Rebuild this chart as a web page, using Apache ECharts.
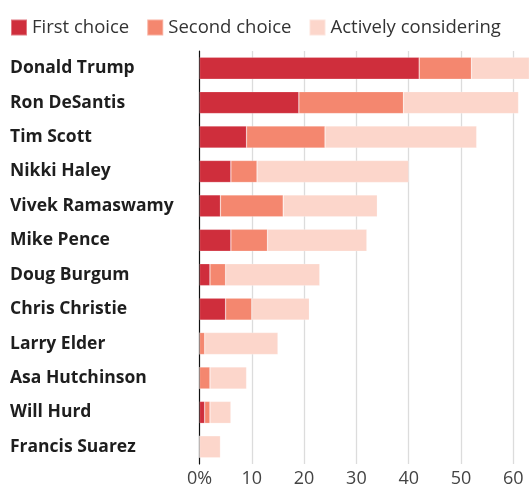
<!DOCTYPE html>
<html>
<head>
<meta charset="utf-8">
<script src="https://cdn.jsdelivr.net/npm/echarts@6/dist/echarts.min.js"></script>
<style>
  html, body { margin: 0; padding: 0; background: #fff; }
  #chart { width: 529px; height: 488px; }
</style>
</head>
<body>
<div id="chart"></div>
<script>
// Candidates, top to bottom
const candidates = [
  'Donald Trump', 'Ron DeSantis', 'Tim Scott', 'Nikki Haley',
  'Vivek Ramaswamy', 'Mike Pence', 'Doug Burgum', 'Chris Christie',
  'Larry Elder', 'Asa Hutchinson', 'Will Hurd', 'Francis Suarez'
];

// Share of likely voters, percentage points per segment
const firstChoice  = [42, 19,  9,  6,  4,  6,  2,  5,  0, 0, 1, 0];
const secondChoice = [10, 20, 15,  5, 12,  7,  3,  5,  1, 2, 1, 0];
const considering  = [12, 22, 29, 29, 18, 19, 18, 11, 14, 7, 4, 4];

const seriesNames = ['First choice', 'Second choice', 'Actively considering'];
const seriesColors = ['#cf2e3c', '#f4876f', '#fcd6cb'];

const xTicks = [0, 10, 20, 30, 40, 50, 60];

const chart = echarts.init(document.getElementById('chart'));

const makeSeries = (name, values, color) => ({
  name: name,
  type: 'bar',
  stack: 'total',
  data: values,
  barWidth: 22,
  itemStyle: { color: color, borderColor: 'rgba(255,255,255,0.35)', borderWidth: 0.6 },
  emphasis: { disabled: true },
  clip: true
});

chart.setOption({
  animation: false,
  backgroundColor: '#fff',
  textStyle: { fontFamily: '"Open Sans", sans-serif' },
  legend: {
    left: 10,
    top: 18,
    padding: 0,
    itemWidth: 16,
    itemHeight: 16,
    itemGap: 17,
    icon: 'rect',
    selectedMode: false,
    textStyle: { fontSize: 18.5, color: '#333', fontFamily: '"Open Sans", sans-serif' },
    data: seriesNames
  },
  grid: { left: 199.5, right: 0, top: 51, bottom: 22, containLabel: false },
  xAxis: {
    type: 'value',
    min: xTicks[0],
    max: 63,
    interval: 10,
    axisLine: { show: false },
    axisTick: { show: false },
    splitLine: { show: true, showMinLine: false, showMaxLine: false, lineStyle: { color: '#dcdcdc', width: 1.3 } },
    axisLabel: {
      showMaxLabel: false,
      fontSize: 18,
      color: '#444',
      margin: 6,
      fontFamily: '"Open Sans", sans-serif',
      formatter: v => (v === 0 ? '0%' : (xTicks.includes(v) ? String(v) : ''))
    }
  },
  yAxis: {
    type: 'category',
    inverse: true,
    data: candidates,
    axisLine: { show: true, lineStyle: { color: '#111', width: 1.2 } },
    axisTick: { show: false },
    axisLabel: {
      align: 'left',
      margin: 189.5,
      padding: [5, 0, 0, 0],
      fontSize: 17.5,
      fontWeight: 'bold',
      color: '#1e1e1e',
      fontFamily: '"Open Sans", sans-serif'
    }
  },
  series: [
    makeSeries(seriesNames[0], firstChoice, seriesColors[0]),
    makeSeries(seriesNames[1], secondChoice, seriesColors[1]),
    makeSeries(seriesNames[2], considering, seriesColors[2])
  ]
});
</script>
</body>
</html>
